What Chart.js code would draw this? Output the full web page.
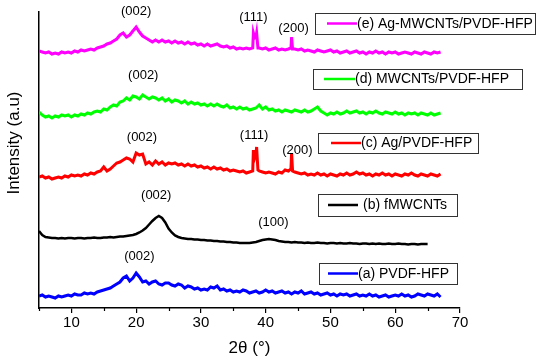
<!DOCTYPE html>
<html>
<head>
<meta charset="utf-8">
<script src="https://cdn.jsdelivr.net/npm/chart.js@4"></script>
<style>
  body { margin: 0; background: #fff; }
  canvas { display: block; }
</style>
</head>
<body>
<canvas id="xrd" width="550" height="361"></canvas>
<script>
// 2-theta grid used by all patterns (degrees)
var theta = [
  5,5.5,6,6.5,7,7.5,8,8.5,9,9.5,
  10,10.5,11,11.5,12,12.5,13,13.5,14,14.5,
  15,15.5,16,16.5,17,17.5,18,18.5,19,19.5,
  20,20.5,21,21.5,22,22.5,23,23.5,24,24.5,
  25,25.5,26,26.5,27,27.5,28,28.5,29,29.5,
  30,30.5,31,31.5,32,32.5,33,33.5,34,34.5,
  35,35.5,36,36.5,37,37.5,38,38.5,39,39.5,
  40,40.5,41,41.5,42,42.5,43,43.5,44,44.5,
  45,45.5,46,46.5,47,47.5,48,48.5,49,49.5,
  50,50.5,51,51.5,52,52.5,53,53.5,54,54.5,
  55,55.5,56,56.5,57,57.5,58,58.5,59,59.5,
  60,60.5,61,61.5,62,62.5,63,63.5,64,64.5,
  65,65.5,66,66.5,67
];

// intensities (a.u., curves already offset as in the figure)
var intA = [
  12,13,11,12,11,10,12,11,12,13,
  12,14,13,13,15,14,15,14,16,17,
  18,19,20,22,24,26,30,32,27,30,
  35,31,26,27,24,26,27,24,23,25,
  25,23,22,24,23,20,22,21,19,20,
  18,19,18,21,20,22,18,19,17,18,
  16,17,16,18,17,15,16,17,15,16,
  18,16,17,15,16,17,15,16,14,16,
  15,17,14,15,16,14,15,13,14,15,
  13,14,12,14,13,14,12,13,14,12,
  13,12,14,12,13,11,12,13,11,12,
  13,12,14,12,13,11,12,14,13,12,
  14,13,12,14,11
];
var intB = [
  77,73,71,70.5,70,70,69.5,70,69.5,70,
  70,69.5,70,70,69.5,70,70,70.5,70,70,
  70.5,70.5,71,70.5,71,71.5,71.5,72,72.5,73,
  74,75.5,77.5,80,83.5,87,90,92,90,85.5,
  79.5,75.5,72.5,71,70,69.5,69,69,68.5,68.5,
  68,68,67.5,67.5,67,67,66.5,66.5,66,66,
  65.5,65.5,65,65,65,65,65.5,66,67,68,
  68.5,69,68.5,68,67,66.5,66,66,65.5,66,
  65.5,65.5,65,65.5,65,65,65.5,65,65,64.5,
  65,65,64.5,65,64.5,64.5,65,64.5,64.5,64,
  64.5,64.5,64,64.5,64,64.5,64,64,64.5,64,
  64,64.5,64,64,63.5,64,64,63.5,64,64,
  64
];
var intC = [
  131,132,130,131,129,130,131,130,132,131,
  133,132,133,132,134,133,135,134,136,137,
  141,137,139,142,145,146,148,150,149,146,
  155,153,154,144,146,143,147,144,146,143,
  145,144,145,143,144,142,144,142,143,141,
  142,140,141,139,141,139,140,138,139,137,
  138,137,136,137,135,136,137,154,137,136,
  135,136,135,134,136,135,138,137,155,136,
  135,134,135,133,134,133,135,133,134,132,
  134,133,132,134,133,135,133,134,136,134,
  135,133,134,132,134,133,135,133,134,132,
  134,133,132,134,133,135,133,132,134,133,
  132,134,133,132,134
];
var intD = [
  196,193,191,192,190,192,191,193,192,193,
  191,193,192,194,193,195,194,196,197,196,
  199,198,201,203,202,206,207,210,208,212,
  211,209,213,211,209,211,210,208,210,207,
  209,206,208,207,205,207,204,206,204,205,
  203,204,202,204,202,204,202,201,203,200,
  201,199,201,199,200,198,199,200,203,199,
  201,198,199,197,198,196,198,197,196,198,
  197,196,198,196,197,199,201,197,195,193,
  195,194,196,194,195,197,195,196,197,195,
  196,194,196,195,197,195,194,196,195,194,
  196,194,195,193,195,194,195,193,195,194,
  193,195,193,194,195
];
var intE = [
  257,256,255,256,254,255,254,256,255,256,
  255,257,256,258,257,258,259,258,260,261,
  262,264,265,267,269,273,275,271,273,277,
  281,276,272,270,268,266,268,266,268,266,
  267,265,267,265,266,264,266,264,265,263,
  264,262,264,262,263,264,262,261,262,260,
  261,259,260,259,260,259,260,271,260,259,
  260,258,259,260,258,259,258,259,271,259,
  258,259,257,258,257,256,258,257,256,257,
  258,256,257,255,256,257,255,256,257,255,
  256,254,256,255,257,255,256,254,256,255,
  256,254,255,256,255,254,256,255,254,256,
  255,254,256,255,256
];

// extra points on the sharp Ag reflections (111) and (200)
var peakThetaC = [38.1, 38.3, 38.6, 38.8, 43.9, 44.15];
var peakIntC = [158, 150, 161, 138, 139, 137];
var peakThetaE = [38.1, 38.3, 38.6, 38.8, 43.9, 44.15];
var peakIntE = [275, 270, 275, 260, 260, 259];

var seriesNames = ['(a) PVDF-HFP', '(b) fMWCNTs', '(c) Ag/PVDF-HFP', '(d) MWCNTs/PVDF-HFP', '(e) Ag-MWCNTs/PVDF-HFP'];
var seriesColors = ['#0000ff', '#000000', '#ff0000', '#00ff00', '#ff00ff'];

// reflection labels
var hklText = ['(002)', '(111)', '(200)', '(002)', '(002)', '(111)', '(200)', '(002)', '(100)', '(002)'];
var hklTheta = [20.0, 38.1, 44.3, 21.1, 20.9, 38.2, 44.9, 23.1, 41.2, 20.5];
var hklLevel = [297, 291, 280, 233, 171, 173, 158, 113, 86, 52];

var xTicks = [10, 20, 30, 40, 50, 60, 70];
var xMinorTicks = [5, 15, 25, 35, 45, 55, 65];

var FONT = "'Liberation Sans', Arial, sans-serif";

function toPoints(xs, ys) {
    return ys.map(function(y, i) { return {x: xs[i], y: y}; });
}
function withPeaks(points, px, py) {
    return points.concat(toPoints(px, py)).sort(function(a, b) { return a.x - b.x; });
}

var curves = [
    toPoints(theta, intA),
    toPoints(theta, intB),
    withPeaks(toPoints(theta, intC), peakThetaC, peakIntC),
    toPoints(theta, intD),
    withPeaks(toPoints(theta, intE), peakThetaE, peakIntE)
];

var datasets = curves.map(function(pts, i) {
    return {
        label: seriesNames[i],
        data: pts,
        borderColor: seriesColors[i],
        borderWidth: i === 1 ? 2.5 : 3,
        pointRadius: 0,
        tension: 0,
        fill: false
    };
});

// legend boxes sit next to each curve, one box per series
var legendBoxes = [
    {x: 319, y: 263, w: 138, h: 21, l1: 328, l2: 358, ly: 273.5, tx: 358},
    {x: 318, y: 194, w: 139, h: 22, l1: 328, l2: 358, ly: 205, tx: 363},
    {x: 318, y: 133, w: 160, h: 20, l1: 331, l2: 361, ly: 143, tx: 361},
    {x: 313, y: 69, w: 209, h: 20, l1: 324, l2: 355, ly: 79, tx: 355},
    {x: 315, y: 13, w: 220, h: 21, l1: 327, l2: 357, ly: 23.5, tx: 357}
];

var decor = {
    id: 'decor',
    afterDraw: function(chart) {
        var ctx = chart.ctx;
        var xs = chart.scales.x, ys = chart.scales.y;
        ctx.save();

        // minor ticks on the 2theta axis
        ctx.strokeStyle = '#000';
        ctx.lineWidth = 1.2;
        xMinorTicks.forEach(function(v) {
            var px = Math.round(xs.getPixelForValue(v)) + 0.5;
            ctx.beginPath();
            ctx.moveTo(px, ys.bottom);
            ctx.lineTo(px, ys.bottom + 3);
            ctx.stroke();
        });

        // y title (sits a bit above the axis centre in the original)
        ctx.fillStyle = '#000';
        ctx.font = '17px ' + FONT;
        ctx.textAlign = 'center';
        ctx.textBaseline = 'middle';
        ctx.save();
        ctx.translate(14, 143);
        ctx.rotate(-Math.PI / 2);
        ctx.fillText('Intensity (a.u)', 0, 0);
        ctx.restore();

        // hkl labels
        ctx.font = '13px ' + FONT;
        hklText.forEach(function(t, i) {
            ctx.fillText(t, xs.getPixelForValue(hklTheta[i]), ys.getPixelForValue(hklLevel[i]));
        });

        // legends
        legendBoxes.forEach(function(b, i) {
            ctx.strokeStyle = '#333';
            ctx.lineWidth = 1;
            ctx.strokeRect(b.x + 0.5, b.y + 0.5, b.w, b.h);
            ctx.strokeStyle = seriesColors[i];
            ctx.lineWidth = 2.5;
            ctx.beginPath();
            ctx.moveTo(b.l1, b.ly);
            ctx.lineTo(b.l2, b.ly);
            ctx.stroke();
            ctx.fillStyle = '#000';
            ctx.font = '14px ' + FONT;
            ctx.textAlign = 'left';
            ctx.fillText(seriesNames[i], b.tx, b.ly + 0.5);
        });
        ctx.restore();
    }
};

var chart = new Chart(document.getElementById('xrd').getContext('2d'), {
    type: 'line',
    data: { datasets: datasets },
    options: {
        responsive: false,
        animation: false,
        layout: { padding: { left: 0, right: 90, top: 12, bottom: 0 } },
        plugins: { legend: { display: false }, tooltip: { enabled: false } },
        scales: {
            x: {
                type: 'linear',
                min: 5,
                max: 70,
                afterFit: function(s) { s.height = 53; },
                afterBuildTicks: function(s) { s.ticks = xTicks.map(function(v) { return {value: v}; }); },
                grid: { drawOnChartArea: false, tickLength: 5, color: '#000', lineWidth: 1.2 },
                border: { color: '#000', width: 1.5 },
                ticks: { color: '#000', font: { family: FONT, size: 15 }, padding: 1, maxRotation: 0 },
                title: { display: true, text: '2θ (°)', color: '#000', font: { family: FONT, size: 17 }, padding: { top: 0, bottom: 2 } }
            },
            y: {
                min: 0,
                max: 296,
                afterFit: function(s) { s.width = 39; },
                ticks: { display: false },
                grid: { display: false },
                border: { color: '#000', width: 1.5 }
            }
        }
    },
    plugins: [decor]
});
</script>
</body>
</html>
